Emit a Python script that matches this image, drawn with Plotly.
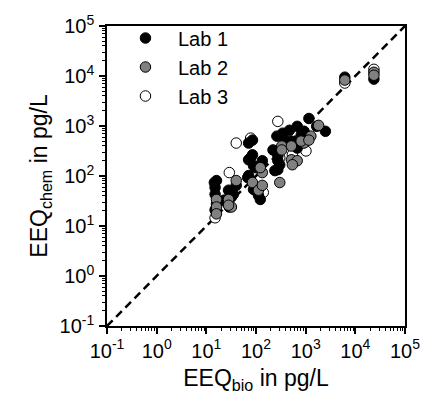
import plotly.graph_objects as go

# EEQ values (pg/L)
lab1_bio = [16, 40, 15, 15, 28, 35, 25, 16, 15, 23, 29, 32, 14.5,
            85, 71, 85, 71, 134, 98, 71, 98, 122, 78, 89, 68, 112, 89,
            263, 344, 472, 676, 1161, 1664, 2495, 811, 516, 220, 676, 301, 240, 275,
            412, 647, 927, 377, 275, 275,
            6138, 23660]
lab1_chem = [81, 65, 59, 43, 52, 43, 30, 27.5, 21, 33, 24, 38, 74,
             522, 456, 265, 211, 202, 147, 102, 52, 34, 231, 161, 93, 41, 54,
             627, 718, 822, 985, 1415, 985, 785, 655, 499, 332, 363, 168, 128, 253,
             456, 456, 785, 522, 202, 134,
             9480, 8660]

lab2_bio = [40, 28, 16, 16, 32, 16, 28,
            134, 85, 112, 122, 134,
            1271, 1820, 330, 516, 927, 516, 676, 540, 301, 811, 1161, 330,
            23660, 23660, 6138]
lab2_chem = [81, 34, 34, 24, 24, 17.5, 26,
             117, 74, 52, 147, 65,
             627, 1030, 398, 398, 456, 211, 202, 168, 74, 499, 522, 332,
             11880, 10370, 8280]

lab3_bio = [29, 15, 40, 78, 140, 275, 847, 1014, 540, 301, 23660, 6138]
lab3_chem = [117, 14.6, 456, 572, 47, 1236, 456, 317, 265, 231, 13600, 7230]

tick_vals = [0.1, 1, 10, 100, 1000, 10000, 100000]
tick_text = ["10<sup>-1</sup>", "10<sup>0</sup>", "10<sup>1</sup>", "10<sup>2</sup>",
             "10<sup>3</sup>", "10<sup>4</sup>", "10<sup>5</sup>"]

line_xy = [0.1, 1e5]

fig = go.Figure()

fig.add_trace(go.Scatter(x=line_xy, y=line_xy, mode="lines",
                         line=dict(color="black", width=2.5, dash="8px,5px"),
                         showlegend=False, hoverinfo="skip"))

mk = dict(size=10.5, line=dict(color="black", width=1))
fig.add_trace(go.Scatter(x=lab3_bio, y=lab3_chem, mode="markers", name="Lab 3",
                         marker=dict(color="white", **mk), legendrank=3,
                         legendgroup="c", cliponaxis=False))
fig.add_trace(go.Scatter(x=lab1_bio, y=lab1_chem, mode="markers", name="Lab 1",
                         marker=dict(color="black", **mk), legendrank=1,
                         legendgroup="a", cliponaxis=False))
fig.add_trace(go.Scatter(x=lab2_bio, y=lab2_chem, mode="markers", name="Lab 2",
                         marker=dict(color="#808080", **mk), legendrank=2,
                         legendgroup="b", cliponaxis=False))

axis_common = dict(
    type="log", range=[-1, 5], tickmode="array", tickvals=tick_vals, ticktext=tick_text,
    showgrid=False, zeroline=False,
    showline=True, linecolor="black", linewidth=1.5, mirror=True,
    ticks="outside", ticklen=6, tickwidth=1.5, tickcolor="black",
    tickfont=dict(family="Liberation Sans, Arial, sans-serif", size=20, color="black"),
    minor=dict(ticks="outside", ticklen=3.5, tickwidth=1, tickcolor="black", dtick="D1"),
)

fig.update_layout(
    width=432, height=403,
    margin=dict(l=107, r=18, t=21, b=77),
    paper_bgcolor="white", plot_bgcolor="white",
    font=dict(family="Liberation Sans, Arial, sans-serif", size=20, color="black"),
    xaxis=dict(title=dict(text="EEQ<sub>bio</sub> in pg/L", font=dict(size=23), standoff=9),
               **axis_common),
    yaxis=dict(title=dict(text="EEQ<sub>chem</sub> in pg/L", font=dict(size=23), standoff=5),
               ticklabelstandoff=1, **axis_common),
    legend=dict(x=0.02, y=1.025, xanchor="left", yanchor="top",
                bgcolor="rgba(0,0,0,0)", font=dict(size=20),
                traceorder="grouped", tracegroupgap=0, itemwidth=55),
    showlegend=True,
)

fig.write_html("out.html")
